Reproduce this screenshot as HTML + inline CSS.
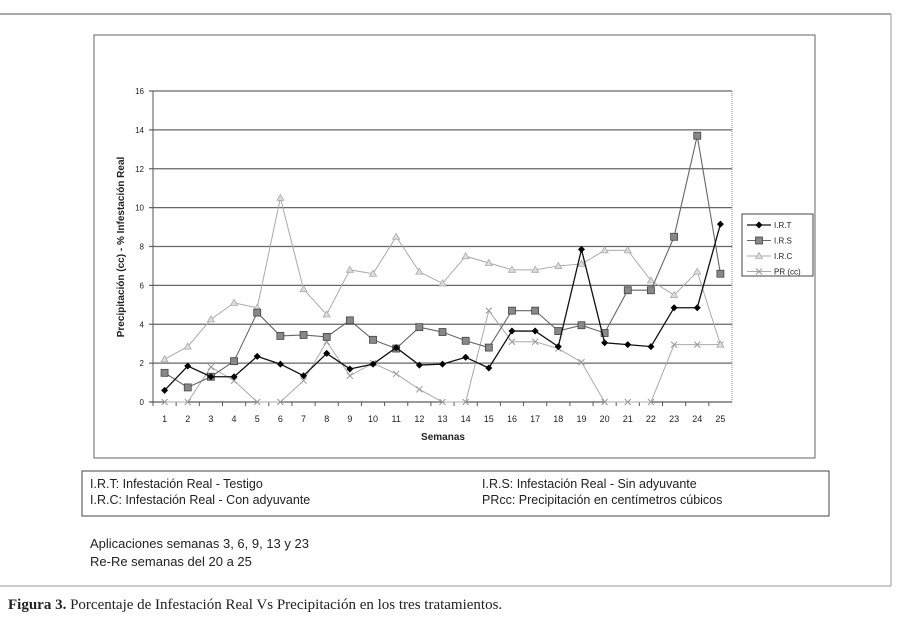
<!DOCTYPE html>
<html><head><meta charset="utf-8"><style>
body{margin:0;background:#fff;width:900px;height:618px;overflow:hidden;font-family:"Liberation Sans",sans-serif;}
</style></head><body>
<svg width="900" height="618" xmlns="http://www.w3.org/2000/svg">
<line x1="0" y1="14" x2="891" y2="14" stroke="#777" stroke-width="1.2"/>
<line x1="891" y1="14" x2="891" y2="586" stroke="#999"/>
<line x1="0" y1="586" x2="891" y2="586" stroke="#999"/>
<rect x="94" y="35" width="721" height="423" fill="none" stroke="#666"/>
<g id="plot"></g>
<text x="443" y="440" font-size="10" font-weight="bold" text-anchor="middle" fill="#222">Semanas</text>
<text transform="translate(124,247) rotate(-90)" font-size="10" font-weight="bold" text-anchor="middle" fill="#222">Precipitación (cc) - % Infestación Real</text>
<g>
<rect x="742" y="214" width="71" height="62" fill="#fff" stroke="#444"/>
<g id="leg"></g>
</g>
<rect x="82" y="471" width="747" height="45" fill="none" stroke="#444"/>
<g font-size="12.5" fill="#222">
<text x="90" y="488">I.R.T: Infestación Real - Testigo</text>
<text x="90" y="504">I.R.C: Infestación Real -  Con adyuvante</text>
<text x="482" y="488">I.R.S: Infestación Real - Sin adyuvante</text>
<text x="482" y="504">PRcc: Precipitación en centímetros cúbicos</text>
<text x="90" y="548" font-size="13">Aplicaciones semanas 3, 6, 9, 13 y 23</text>
<text x="90" y="566" font-size="13">Re-Re semanas del 20 a 25</text>
</g>
<text x="8" y="609" font-size="15" font-family="Liberation Serif, serif" fill="#222"><tspan font-weight="bold">Figura 3.</tspan> Porcentaje de Infestación Real Vs Precipitación en los tres tratamientos.</text>
</svg>
<script>
const weeks=[1,2,3,4,5,6,7,8,9,10,11,12,13,14,15,16,17,18,19,20,21,22,23,24,25];
const yTicks=[0,2,4,6,8,10,12,14,16];
const irt=[0.6,1.85,1.3,1.3,2.35,1.95,1.35,2.5,1.7,1.95,2.8,1.9,1.95,2.3,1.75,3.65,3.65,2.85,7.85,3.05,2.95,2.85,4.85,4.85,9.15];
const irs=[1.5,0.75,1.3,2.1,4.6,3.4,3.45,3.35,4.2,3.2,2.75,3.85,3.6,3.15,2.8,4.7,4.7,3.65,3.95,3.55,5.75,5.75,8.5,13.7,6.6];
const irc=[2.2,2.85,4.25,5.1,4.85,10.5,5.8,4.5,6.8,6.6,8.5,6.7,6.1,7.5,7.15,6.8,6.8,7.0,7.1,7.8,7.8,6.25,5.5,6.7,2.95];
const pr=[0,0,1.8,1.1,0,0,1.1,3.1,1.35,2.0,1.45,0.65,0,0,4.7,3.1,3.1,2.75,2.05,0,0,0,2.95,2.95,2.95];
const seriesNames=["I.R.T","I.R.S","I.R.C","PR (cc)"];
const NS="http://www.w3.org/2000/svg";
const L=153,R=732,T=91,B=402;
const band=(R-L)/weeks.length;
const xs=i=>L+band*(i+0.5);
const ys=v=>B-(v/16)*(B-T);
const plot=document.getElementById('plot');
function mk(tag,attrs,parent){const e=document.createElementNS(NS,tag);for(const k in attrs)e.setAttribute(k,attrs[k]);parent.appendChild(e);return e;}
yTicks.forEach(t=>{
  const g=mk('line',{x1:L-4,x2:R,y1:ys(t),y2:ys(t),stroke:t===0?'#333':'#666','stroke-width':t===0?1:1.3},plot);
  
  
  const tx=mk('text',{x:L-9,y:ys(t)+3,'font-size':8,'text-anchor':'end',fill:'#222'},plot);tx.textContent=t;
  
  
});
const ax=mk('line',{x1:L,x2:L,y1:T,y2:B,stroke:'#555'},plot);


const rb=mk('line',{x1:R,x2:R,y1:T,y2:B,stroke:'#888','stroke-dasharray':'1,1'},plot);


weeks.forEach((w,i)=>{
  mk('line',{x1:L+band*i,x2:L+band*i,y1:B,y2:B+4,stroke:'#555'},plot);
  const tx=mk('text',{x:xs(i),y:B+20,'font-size':9,'text-anchor':'middle',fill:'#222'},plot);tx.textContent=w;
  
  
});
function marker(type,x,y,parent,col){
  if(type==='d')return mk('path',{d:`M${x} ${y-3.5}L${x+3.5} ${y}L${x} ${y+3.5}L${x-3.5} ${y}Z`,fill:'#000'},parent);
  if(type==='s')return mk('rect',{x:x-3.5,y:y-3.5,width:7,height:7,fill:'#888',stroke:'#444','stroke-width':0.8},parent);
  if(type==='t')return mk('path',{d:`M${x} ${y-3.5}L${x+3.5} ${y+2.5}L${x-3.5} ${y+2.5}Z`,fill:'#ddd',stroke:'#aaa','stroke-width':0.8},parent);
  return mk('path',{d:`M${x-3} ${y-3}L${x+3} ${y+3}M${x-3} ${y+3}L${x+3} ${y-3}`,stroke:'#999','stroke-width':1},parent);
}
const defs=[[irt,'#111','d',1.3,'irt'],[irs,'#666','s',1.1,'irs'],[irc,'#aaa','t',1,'irc'],[pr,'#aaa','x',1,'pr']];
[defs[3],defs[2],defs[1],defs[0]].forEach(([data,col,m,w,name])=>{
  const g=mk('g',{},plot);
  
  
  mk('polyline',{points:data.map((v,i)=>xs(i)+','+ys(v)).join(' '),fill:'none',stroke:col,'stroke-width':w},g);
  data.forEach((v,i)=>{const p=marker(m,xs(i),ys(v),g,col);
    
    });
});
const leg=document.getElementById('leg');
defs.forEach(([d,col,m,w,name],i)=>{
  const y=225+i*15.5;
  const g=mk('g',{},leg);
  
  
  mk('line',{x1:747,x2:771,y1:y,y2:y,stroke:col,'stroke-width':w},g);
  marker(m,759,y,g,col);
  const t=mk('text',{x:774,y:y+3,'font-size':8,fill:'#222'},g);t.textContent=seriesNames[i];
});
</script>
</body></html>
